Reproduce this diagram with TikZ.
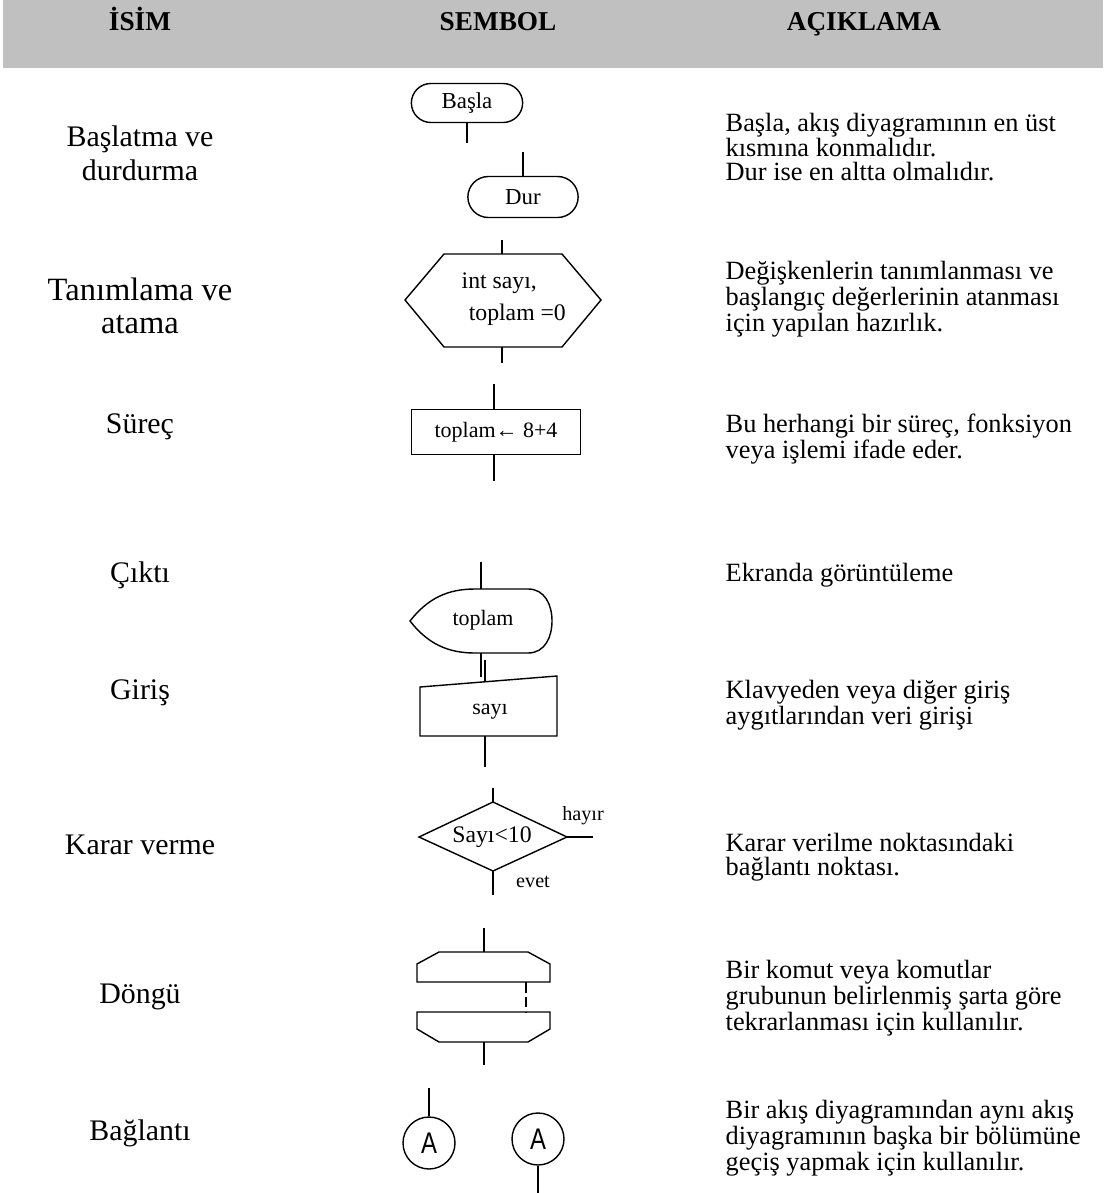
\documentclass[tikz,border=0pt]{standalone}
\usepackage{fontspec}
\setmainfont{Liberation Serif}
\newfontfamily\connfont[FakeStretch=0.8]{Liberation Sans}
\usetikzlibrary{shapes.misc}
\definecolor{headgray}{HTML}{C0C0C0}
\begin{document}
\begin{tikzpicture}[x=0.02cm, y=-0.02cm, line width=0.8pt,
  head/.style={anchor=base, font=\fontsize{15.5}{18}\selectfont\bfseries},
  isim/.style={align=center, font=\fontsize{17}{19.3}\selectfont},
  aciklama/.style={anchor=west, align=left, inner sep=0pt, font=\fontsize{15}{13.6}\selectfont},
  sembol/.style={font=\fontsize{12.5}{14}\selectfont},
  terminal/.style={draw, rounded rectangle, font=\fontsize{13}{15}\selectfont, minimum height=0.78cm},
  baglanti/.style={draw, circle, minimum size=1.04cm, font=\connfont\fontsize{17}{19}\selectfont}]

  \useasboundingbox (0, 0) rectangle (1103, 1193);
  \fill[headgray] (3, 0) rectangle (1103, 68);

  \node[head] (hisim) at (140, 31) {İSİM};
  \node[head] (hsembol) at (498, 31) {SEMBOL};
  \node[head] (haciklama) at (864, 31) {AÇIKLAMA};

  \node[isim] (i1) at (140, 153) {Başlatma ve\\durdurma};
  \node[isim, font=\fontsize{18.5}{18.7}\selectfont] (i2) at (140, 306) {Tanımlama ve\\atama};
  \node[isim] (i3) at (140, 427) {Süreç};
  \node[isim] (i4) at (140, 575) {Çıktı};
  \node[isim] (i5) at (140, 693) {Giriş};
  \node[isim] (i6) at (140, 845) {Karar verme};
  \node[isim] (i7) at (140, 997) {Döngü};
  \node[isim] (i8) at (140, 1133) {Bağlantı};

  \node[aciklama] (a1) at (725, 147) {Başla, akış diyagramının en üst\\kısmına konmalıdır.\\Dur ise en altta olmalıdır.};
  \node[aciklama] (a2) at (725, 299) {Değişkenlerin tanımlanması ve\\başlangıç değerlerinin atanması\\için yapılan hazırlık.};
  \node[aciklama] (a3) at (725, 439) {Bu herhangi bir süreç, fonksiyon\\veya işlemi ifade eder.};
  \node[aciklama] (a4) at (725, 575) {Ekranda görüntüleme};
  \node[aciklama] (a5) at (725, 705) {Klavyeden veya diğer giriş\\aygıtlarından veri girişi};
  \node[aciklama] (a6) at (725, 857) {Karar verilme noktasındaki\\bağlantı noktası.};
  \node[aciklama] (a7) at (725, 998) {Bir komut veya komutlar\\grubunun belirlenmiş şarta göre\\tekrarlanması için kullanılır.};
  \node[aciklama] (a8) at (725, 1138) {Bir akış diyagramından aynı akış\\diyagramının başka bir bölümüne\\geçiş yapmak için kullanılır.};

  % basla / dur
  \node[terminal, minimum width=2.46cm] (basla) at (467, 103) {Başla};
  \draw (basla.south) -- ++(0, 20);
  \node[terminal, minimum width=2.44cm, minimum height=0.82cm] (dur) at (523, 197) {Dur};
  \draw (dur.north) -- ++(0, -24);

  % tanimlama
  \draw (405, 300) -- (444, 254) -- (562, 254) -- (601, 300) -- (562, 347) -- (444, 347) -- cycle;
  \coordinate (hexust) at (502, 254);
  \coordinate (hexalt) at (502, 347);
  \draw (hexust) -- ++(0, -14);
  \draw (hexalt) -- ++(0, 16);
  \node[anchor=west, align=left, inner sep=0pt, font=\fontsize{13.5}{18}\selectfont] (tanim) at (461, 299) {int sayı,\\\hspace*{0.3em}toplam =0};

  % surec
  \node[draw, rectangle, sembol, minimum width=3.38cm, minimum height=0.9cm] (surec) at (496, 432) {toplam← 8+4};
  \draw (surec.north) ++(-2, 0) -- ++(0, -25);
  \draw (surec.south) ++(-2, 0) -- ++(0, 26);

  % cikti
  \draw (410, 621) .. controls (428, 598) and (448, 589) .. (475, 589) -- (528, 589)
    .. controls (545, 589) and (552, 605) .. (552, 621)
    .. controls (552, 637) and (545, 653) .. (528, 653) -- (475, 653)
    .. controls (448, 653) and (428, 644) .. (410, 621) -- cycle;
  \node[sembol] (cikti) at (483, 620) {toplam};
  \coordinate (ciktiust) at (481, 589);
  \coordinate (ciktialt) at (481, 653);
  \draw (ciktiust) -- ++(0, -27);
  \draw (ciktialt) -- ++(0, 24);

  % giris
  \draw (420, 687) -- (557, 676) -- (557, 736) -- (420, 736) -- cycle;
  \node[sembol] (giris) at (490, 712) {sayı};
  \coordinate (girisust) at (485, 682);
  \coordinate (girisalt) at (485, 736);
  \draw (girisust) -- ++(0, -22);
  \draw (girisalt) -- ++(0, 31);

  % karar
  \draw (493, 802) -- (567, 837) -- (493, 871) -- (419, 837) -- cycle;
  \node[font=\fontsize{13.5}{15}\selectfont] (karar) at (492, 837) {Sayı<10};
  \coordinate (kararust) at (493, 802);
  \coordinate (kararsag) at (567, 837);
  \coordinate (kararalt) at (493, 871);
  \draw (kararust) -- ++(0, -14);
  \draw (kararsag) -- ++(26, 0);
  \draw (kararalt) -- ++(0, 24);
  \node[font=\fontsize{11.5}{13}\selectfont] (hayir) at (583, 816) {hayır};
  \node[font=\fontsize{11.5}{13}\selectfont] (evet) at (533, 882) {evet};

  % dongu
  \draw (417, 982) -- (417, 964) -- (439, 952) -- (528, 952) -- (550, 964) -- (550, 982) -- cycle;
  \draw (417, 1012) -- (550, 1012) -- (550, 1029) -- (528, 1042) -- (439, 1042) -- (417, 1029) -- cycle;
  \coordinate (dongust) at (484, 952);
  \coordinate (dongalt) at (484, 1042);
  \coordinate (donga) at (526, 982);
  \coordinate (dongb) at (526, 1012);
  \draw (dongust) -- ++(0, -24);
  \draw (dongalt) -- ++(0, 23);
  \draw[dash pattern=on 6pt off 2.5pt] (donga) -- (dongb);

  % baglanti
  \node[baglanti] (bag1) at (429, 1143) {A};
  \node[baglanti] (bag2) at (538, 1139) {A};
  \draw (bag1.north) -- ++(0, -28);
  \draw (bag2.south) -- ++(0, 28);

\end{tikzpicture}
\end{document}
